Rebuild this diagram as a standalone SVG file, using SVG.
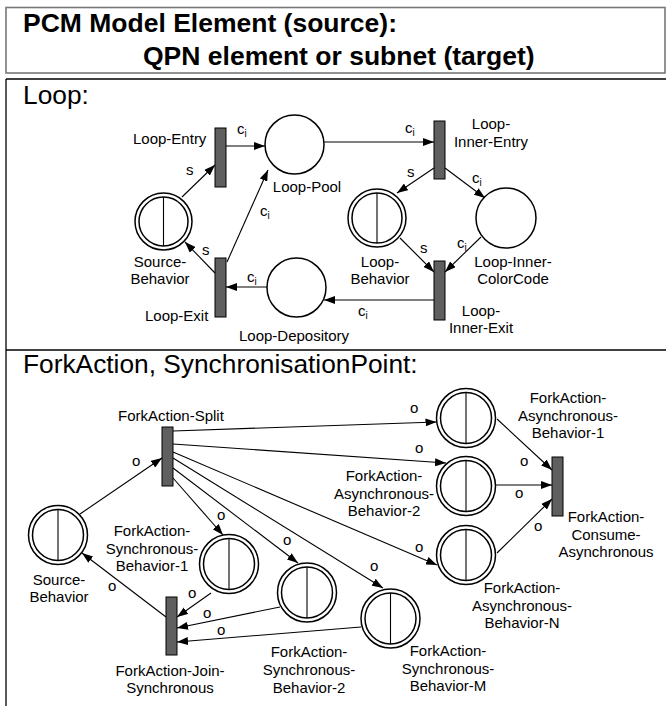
<svg xmlns="http://www.w3.org/2000/svg" width="666" height="706" viewBox="0 0 666 706">
<defs>
<marker id="arr" markerUnits="userSpaceOnUse" markerWidth="11" markerHeight="8" refX="11" refY="4" orient="auto">
<path d="M0,0 L11,4 L0,8 z" fill="#000"/>
</marker>
<style>
text{font-family:"Liberation Sans",Arial,sans-serif;fill:#000}
.t{font-size:15px}
.m{text-anchor:middle}
.ttl{font-size:26.3px}
.hdr{font-size:26.5px;font-weight:bold}
.sub{font-size:10px}
.tr{fill:#5f5f5f;stroke:#000;stroke-width:1}
.pl{fill:#fff;stroke:#000;stroke-width:1.5}
.ln{fill:none;stroke:#000;stroke-width:1.1}
.ar{fill:none;stroke:#000;stroke-width:1.1;marker-end:url(#arr)}
.fr{fill:none;stroke:#000;stroke-width:1.3}
</style>
</defs>
<rect width="666" height="706" fill="#fff"/>
<g id="frame">
<rect x="6" y="7.5" width="659" height="65.5" fill="none" stroke="#777" stroke-width="1.6"/>
<line class="fr" x1="6" y1="79" x2="666" y2="79"/>
<line class="fr" x1="6" y1="79" x2="6" y2="706"/>
<line class="fr" x1="6" y1="350" x2="666" y2="350"/>
<text class="hdr" x="23" y="32">PCM Model Element (source):</text>
<text class="hdr" x="143" y="65">QPN element or subnet (target)</text>
<text class="ttl" x="23" y="103.5">Loop:</text>
<text class="ttl" x="23" y="372.5">ForkAction, SynchronisationPoint:</text>
</g>
<g id="connectors">
<line class="ar" x1="226" y1="146" x2="265" y2="146"/>
<line class="ar" x1="182" y1="197" x2="215" y2="165"/>
<line class="ar" x1="215" y1="273" x2="185" y2="242"/>
<line class="ar" x1="227" y1="262" x2="268" y2="170"/>
<line class="ar" x1="267" y1="287" x2="226" y2="287"/>
<line class="ar" x1="324" y1="142" x2="434" y2="142"/>
<line class="ar" x1="434" y1="168" x2="397" y2="193"/>
<line class="ar" x1="445" y1="168" x2="485" y2="198"/>
<line class="ar" x1="400" y1="238" x2="434" y2="272"/>
<line class="ar" x1="481" y1="237" x2="445" y2="272"/>
<line class="ar" x1="434" y1="300" x2="324" y2="300"/>
<line class="ar" x1="80" y1="514" x2="162" y2="458"/>
<line class="ar" x1="173" y1="431" x2="436.5" y2="422"/>
<line class="ar" x1="173" y1="444" x2="446" y2="463"/>
<line class="ar" x1="173" y1="452" x2="437" y2="565"/>
<line class="ar" x1="173" y1="458" x2="383" y2="588"/>
<line class="ar" x1="173" y1="468" x2="298" y2="563"/>
<line class="ar" x1="173" y1="478" x2="223" y2="535"/>
<line class="ar" x1="497" y1="419" x2="552" y2="470"/>
<line class="ar" x1="496" y1="485" x2="552" y2="485"/>
<line class="ar" x1="497" y1="553" x2="552" y2="499"/>
<line class="ar" x1="211" y1="593" x2="177" y2="617"/>
<line class="ar" x1="280" y1="607" x2="177" y2="628"/>
<line class="ar" x1="361" y1="627" x2="177" y2="642"/>
<line class="ar" x1="166" y1="617" x2="82" y2="553"/>
<text class="t" x="237" y="134">c<tspan class="sub" dy="3">i</tspan></text>
<text class="t" x="186" y="175">s</text>
<text class="t" x="202" y="255">s</text>
<text class="t" x="260" y="216">c<tspan class="sub" dy="3">i</tspan></text>
<text class="t" x="247" y="282">c<tspan class="sub" dy="3">i</tspan></text>
<text class="t" x="358" y="316">c<tspan class="sub" dy="3">i</tspan></text>
<text class="t" x="405" y="133">c<tspan class="sub" dy="3">i</tspan></text>
<text class="t" x="407" y="177">s</text>
<text class="t" x="472" y="183">c<tspan class="sub" dy="3">i</tspan></text>
<text class="t" x="420" y="253">s</text>
<text class="t" x="457" y="248">c<tspan class="sub" dy="3">i</tspan></text>
<text class="t" x="132" y="466">o</text>
<text class="t" x="410" y="413">o</text>
<text class="t" x="415" y="453">o</text>
<text class="t" x="415" y="552">o</text>
<text class="t" x="370" y="571">o</text>
<text class="t" x="283" y="545">o</text>
<text class="t" x="217" y="520">o</text>
<text class="t" x="520" y="466">o</text>
<text class="t" x="515" y="498">o</text>
<text class="t" x="534" y="531">o</text>
<text class="t" x="188" y="598">o</text>
<text class="t" x="203" y="618">o</text>
<text class="t" x="217" y="635">o</text>
<text class="t" x="108" y="591">o</text>
</g>
<g id="loop-entry">
<rect class="tr" x="215" y="128" width="11" height="59"/>
<text class="t" x="133" y="144">Loop-Entry</text>
</g>
<g id="loop-pool">
<circle class="pl" cx="294.5" cy="144.5" r="29.5"/>
<text class="t m" x="307" y="192">Loop-Pool</text>
</g>
<g id="loop-source-behavior">
<circle class="pl" cx="163.5" cy="221.5" r="28.5"/>
<circle class="pl" cx="163.5" cy="221.5" r="24.5"/>
<line class="ln" x1="163.5" y1="197" x2="163.5" y2="246"/>
<text class="t m" x="160" y="267">Source-</text>
<text class="t m" x="160" y="284">Behavior</text>
</g>
<g id="loop-exit">
<rect class="tr" x="215" y="258" width="11" height="59"/>
<text class="t" x="145" y="321">Loop-Exit</text>
</g>
<g id="loop-depository">
<circle class="pl" cx="296.5" cy="287.5" r="29.5"/>
<text class="t m" x="294" y="341">Loop-Depository</text>
</g>
<g id="loop-inner-entry">
<rect class="tr" x="434" y="121" width="11" height="58"/>
<text class="t m" x="491" y="129">Loop-</text>
<text class="t m" x="491" y="146.5">Inner-Entry</text>
</g>
<g id="loop-behavior">
<circle class="pl" cx="377" cy="218" r="29"/>
<circle class="pl" cx="377" cy="218" r="25"/>
<line class="ln" x1="377" y1="193" x2="377" y2="243"/>
<text class="t m" x="380" y="267">Loop-</text>
<text class="t m" x="380" y="284">Behavior</text>
</g>
<g id="loop-inner-colorcode">
<circle class="pl" cx="506" cy="218" r="30"/>
<text class="t m" x="513" y="267">Loop-Inner-</text>
<text class="t m" x="513" y="284">ColorCode</text>
</g>
<g id="loop-inner-exit">
<rect class="tr" x="434" y="261" width="11" height="59"/>
<text class="t m" x="481" y="316">Loop-</text>
<text class="t m" x="481" y="333">Inner-Exit</text>
</g>
<g id="fork-split">
<rect class="tr" x="162" y="427" width="11" height="59"/>
<text class="t" x="118" y="421">ForkAction-Split</text>
</g>
<g id="fork-source-behavior">
<circle class="pl" cx="58" cy="535" r="29.5"/>
<circle class="pl" cx="58" cy="535" r="25.5"/>
<line class="ln" x1="58" y1="509.5" x2="58" y2="560.5"/>
<text class="t m" x="59" y="585">Source-</text>
<text class="t m" x="59" y="602">Behavior</text>
</g>
<g id="fork-async-1">
<circle class="pl" cx="466" cy="418" r="29.5"/>
<circle class="pl" cx="466" cy="418" r="25.5"/>
<line class="ln" x1="466" y1="392.5" x2="466" y2="443.5"/>
<text class="t m" x="568" y="403">ForkAction-</text>
<text class="t m" x="568" y="420.5">Asynchronous-</text>
<text class="t m" x="568" y="437.5">Behavior-1</text>
</g>
<g id="fork-async-2">
<circle class="pl" cx="466" cy="486" r="29.5"/>
<circle class="pl" cx="466" cy="486" r="25.5"/>
<line class="ln" x1="466" y1="460.5" x2="466" y2="511.5"/>
<text class="t m" x="384" y="481">ForkAction-</text>
<text class="t m" x="384" y="498.5">Asynchronous-</text>
<text class="t m" x="384" y="516">Behavior-2</text>
</g>
<g id="fork-async-n">
<circle class="pl" cx="466" cy="555" r="29.5"/>
<circle class="pl" cx="466" cy="555" r="25.5"/>
<line class="ln" x1="466" y1="529.5" x2="466" y2="580.5"/>
<text class="t m" x="522" y="593">ForkAction-</text>
<text class="t m" x="522" y="610.5">Asynchronous-</text>
<text class="t m" x="522" y="628">Behavior-N</text>
</g>
<g id="fork-consume-async">
<rect class="tr" x="552" y="457" width="11" height="59"/>
<text class="t m" x="606" y="522">ForkAction-</text>
<text class="t m" x="606" y="539.5">Consume-</text>
<text class="t m" x="606" y="557">Asynchronous</text>
</g>
<g id="fork-sync-1">
<circle class="pl" cx="229" cy="564" r="29.5"/>
<circle class="pl" cx="229" cy="564" r="25.5"/>
<line class="ln" x1="229" y1="538.5" x2="229" y2="589.5"/>
<text class="t m" x="152" y="536">ForkAction-</text>
<text class="t m" x="152" y="553.5">Synchronous-</text>
<text class="t m" x="152" y="571">Behavior-1</text>
</g>
<g id="fork-sync-2">
<circle class="pl" cx="307" cy="592.5" r="29.5"/>
<circle class="pl" cx="307" cy="592.5" r="25.5"/>
<line class="ln" x1="307" y1="567" x2="307" y2="618"/>
<text class="t m" x="309" y="657">ForkAction-</text>
<text class="t m" x="309" y="675">Synchronous-</text>
<text class="t m" x="309" y="693">Behavior-2</text>
</g>
<g id="fork-sync-m">
<circle class="pl" cx="390.5" cy="618.5" r="29.5"/>
<circle class="pl" cx="390.5" cy="618.5" r="25.5"/>
<line class="ln" x1="390.5" y1="593" x2="390.5" y2="644"/>
<text class="t m" x="448" y="656">ForkAction-</text>
<text class="t m" x="448" y="673.5">Synchronous-</text>
<text class="t m" x="448" y="691">Behavior-M</text>
</g>
<g id="fork-join">
<rect class="tr" x="166" y="597" width="11" height="58"/>
<text class="t m" x="170" y="676">ForkAction-Join-</text>
<text class="t m" x="170" y="693">Synchronous</text>
</g>
</svg>
